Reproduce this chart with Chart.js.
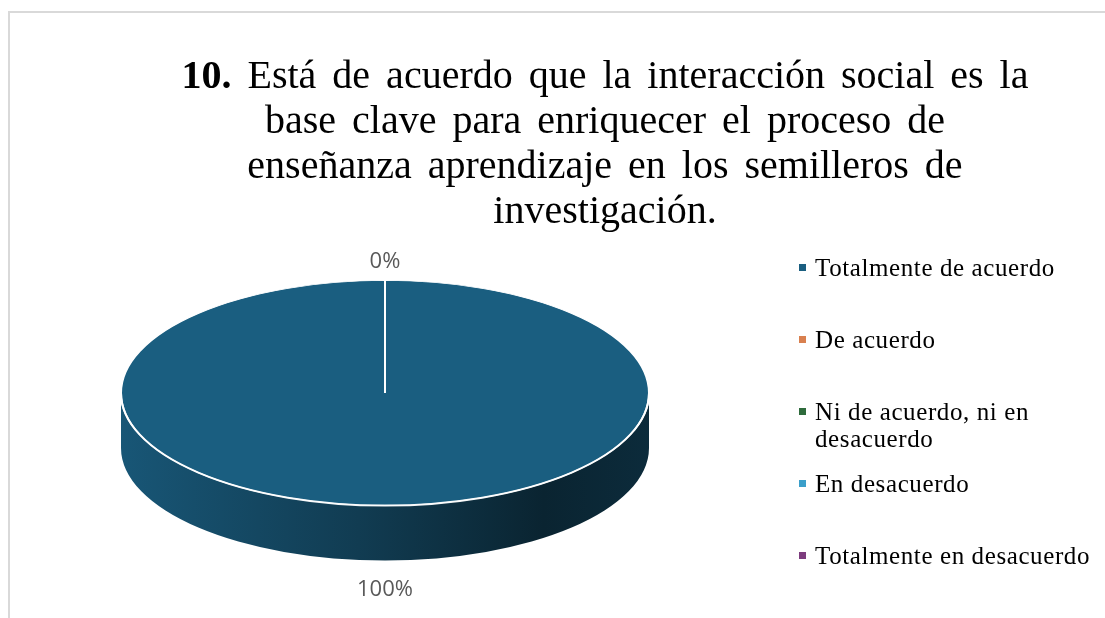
<!DOCTYPE html>
<html><head><meta charset="utf-8">
<script src="https://cdn.jsdelivr.net/npm/chart.js@4.4.1/dist/chart.umd.min.js"></script>
<style>
html,body{margin:0;padding:0;background:#fff;overflow:hidden;width:1105px;height:618px;position:relative;}
#frame{position:absolute;left:8px;top:11px;width:1200px;height:700px;border-left:2px solid #d9d9d9;border-top:2px solid #d9d9d9;}
#wrap{position:absolute;left:0;top:0;width:1105px;height:800px;}
#title{position:absolute;left:105px;width:1000px;top:52px;text-align:center;font-family:"Liberation Serif",serif;font-size:40px;line-height:45px;color:#000;word-spacing:6px;white-space:nowrap;}
#title b{font-weight:bold;}
#legend{position:absolute;left:0;top:0;font-family:"Liberation Serif",serif;font-size:25px;line-height:27px;color:#000;letter-spacing:0.6px;}
.item{position:absolute;left:815px;width:290px;height:72px;white-space:nowrap;}
.mk{position:absolute;left:-16px;top:10px;width:7px;height:7px;}
</style></head>
<body>
<div id="frame"></div>
<div id="wrap"><canvas id="c" width="1105" height="800"></canvas></div>
<div id="title"></div>
<div id="legend"></div>
<script>
// ---- data ----
const titleNumber = "10.";
const titleLines = ["Está de acuerdo que la interacción social es la", "base clave para enriquecer el proceso de", "enseñanza aprendizaje en los semilleros de", "investigación."];
const categories = ["Totalmente de acuerdo", "De acuerdo", "Ni de acuerdo, ni en desacuerdo", "En desacuerdo", "Totalmente en desacuerdo"];
const legendLines = [["Totalmente de acuerdo"], ["De acuerdo"], ["Ni de acuerdo, ni en", "desacuerdo"], ["En desacuerdo"], ["Totalmente en desacuerdo"]];
const percentages = [100, 0, 0, 0, 0];
const sliceColors = ["#1a5e80", "#d9804f", "#2e6b3c", "#3b9fca", "#7d3c7e"];

// ---- title (HTML) ----
const t = document.getElementById('title');
titleLines.forEach((line, i) => {
  if (i === 0) {
    const b = document.createElement('b');
    b.textContent = titleNumber;
    t.appendChild(b);
    t.appendChild(document.createTextNode(' ' + line));
  } else {
    t.appendChild(document.createElement('br'));
    t.appendChild(document.createTextNode(line));
  }
});

// ---- legend (HTML) ----
const leg = document.getElementById('legend');
legendLines.forEach((lines, i) => {
  const d = document.createElement('div');
  d.className = 'item';
  d.style.top = (254 + i * 72) + 'px';
  const m = document.createElement('span');
  m.className = 'mk';
  m.style.background = sliceColors[i];
  d.appendChild(m);
  d.appendChild(document.createTextNode(lines[0]));
  for (let k = 1; k < lines.length; k++) {
    d.appendChild(document.createElement('br'));
    d.appendChild(document.createTextNode(lines[k]));
  }
  leg.appendChild(d);
});

// ---- 3D look ----
const TILT = 113 / 265;
const DEPTH = 55;
function shade(hex, f) {
  const n = parseInt(hex.slice(1), 16);
  const r = Math.round(((n >> 16) & 255) * f), g = Math.round(((n >> 8) & 255) * f), b = Math.round((n & 255) * f);
  return `rgb(${r},${g},${b})`;
}
const pie3d = {
  id: 'pie3d',
  beforeDatasetsDraw(chart) {
    const ctx = chart.ctx;
    const meta = chart.getDatasetMeta(0);
    const a0 = meta.data[0];
    const cx = a0.x, cy = a0.y, r = a0.outerRadius, ry = r * TILT;
    ctx.save();
    meta.data.forEach((arc, i) => {
      const s = arc.startAngle, e = arc.endAngle;
      if (e - s <= 0) return;
      for (const sh of [-2 * Math.PI, 0, 2 * Math.PI]) {
        const lo = Math.max(s, sh), hi = Math.min(e, Math.PI + sh);
        if (hi <= lo) continue;
        const col = sliceColors[i];
        const g = ctx.createLinearGradient(cx - r, 0, cx + r, 0);
        g.addColorStop(0, shade(col, 0.92));
        g.addColorStop(0.45, shade(col, 0.64));
        g.addColorStop(0.8, shade(col, 0.38));
        g.addColorStop(1, shade(col, 0.46));
        ctx.beginPath();
        ctx.ellipse(cx, cy, r, ry, 0, lo - sh, hi - sh, false);
        ctx.ellipse(cx, cy + DEPTH, r, ry, 0, hi - sh, lo - sh, true);
        ctx.closePath();
        ctx.fillStyle = g;
        ctx.fill();
      }
    });
    ctx.restore();
    ctx.save();
    ctx.translate(cx, cy);
    ctx.scale(1, TILT);
    ctx.translate(-cx, -cy);
  },
  afterDatasetsDraw(chart) {
    const ctx = chart.ctx;
    ctx.restore();
    const meta = chart.getDatasetMeta(0);
    const a0 = meta.data[0];
    const cx = a0.x, cy = a0.y, r = a0.outerRadius, ry = r * TILT;
    // white front rim
    ctx.save();
    ctx.beginPath();
    ctx.ellipse(cx, cy, r, ry, 0, 0, Math.PI, false);
    ctx.strokeStyle = 'rgba(255,255,255,0.95)';
    ctx.lineWidth = 2;
    ctx.stroke();
    ctx.restore();
    // data labels
    ctx.save();
    ctx.font = '22px "Open Sans", sans-serif';
    ctx.fillStyle = '#595959';
    ctx.textAlign = 'center';
    ctx.textBaseline = 'middle';
    const done = new Set();
    meta.data.forEach((arc, i) => {
      const mid = (arc.startAngle + arc.endAngle) / 2;
      const c = Math.cos(mid), s = Math.sin(mid);
      const off = s > 0 ? 29 : 19;
      const px = cx + (r + off) * c;
      const py = cy + ry * s + (s > 0 ? DEPTH : 0) + off * s;
      const key = Math.round(px) + ',' + Math.round(py);
      if (done.has(key)) return;
      done.add(key);
      ctx.fillText(percentages[i] + '%', px, py);
    });
    ctx.restore();
  }
};

new Chart(document.getElementById('c'), {
  type: 'pie',
  data: {
    labels: categories,
    datasets: [{
      data: percentages,
      backgroundColor: sliceColors,
      borderColor: '#ffffff',
      borderWidth: 2,
      hoverOffset: 0
    }]
  },
  options: {
    responsive: false,
    animation: false,
    events: [],
    layout: { padding: { left: 120, right: 455, top: 128, bottom: 142 } },
    plugins: { legend: { display: false }, tooltip: { enabled: false }, title: { display: false } }
  },
  plugins: [pie3d]
});
</script>
</body></html>
